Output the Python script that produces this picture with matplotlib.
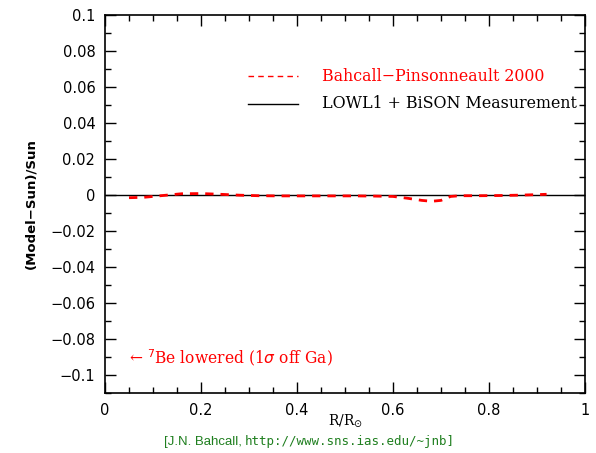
import matplotlib
matplotlib.use("Agg")
import matplotlib.pyplot as plt
from matplotlib.ticker import MultipleLocator

r = [0.05, 0.08, 0.12, 0.16, 0.20, 0.24, 0.28, 0.32, 0.36, 0.40, 0.44, 0.48,
     0.52, 0.56, 0.60, 0.63, 0.66, 0.68, 0.70, 0.72, 0.74, 0.78, 0.82, 0.86, 0.90, 0.92]
model = [-0.0015, -0.0013, -0.0003, 0.0007, 0.0008, 0.0004, -0.0001, -0.0004, -0.0005,
         -0.0005, -0.0005, -0.0005, -0.0005, -0.0006, -0.0008, -0.0018, -0.0030, -0.0035,
         -0.0030, -0.0008, -0.0004, -0.0004, -0.0003, -0.0001, 0.0002, 0.0004]
meas_x = [0.0, 1.0]
meas_y = [0.0, 0.0]

fig = plt.figure(figsize=(5.96, 4.53), dpi=100)
ax = fig.add_axes([105/596, 1-393/453, 480/596, 378/453])
ax.set_xlim(0, 1)
ax.set_ylim(-0.11, 0.1)

ax.plot(meas_x, meas_y, color="black", lw=1.0)
ax.plot(r, model, color="red", lw=2.0, ls=(0, (3, 2.5)))

ax.xaxis.set_major_locator(MultipleLocator(0.2))
ax.xaxis.set_minor_locator(MultipleLocator(0.05))
ax.yaxis.set_minor_locator(MultipleLocator(0.01))
ax.tick_params(which="both", direction="in", top=True, right=True, labelsize=10.5, width=1.0)
ax.tick_params(which="major", length=8, pad=7)
ax.tick_params(which="minor", length=4)
for s in ax.spines.values():
    s.set_linewidth(1.2)

def fmt(v, pos):
    if abs(v) < 1e-9:
        return "0"
    s = ("%.2f" % v).rstrip("0").rstrip(".")
    return s.replace("-", "\u2212")
ax.set_yticks([0.1, 0.08, 0.06, 0.04, 0.02, 0, -0.02, -0.04, -0.06, -0.08, -0.1])
ax.xaxis.set_major_formatter(plt.FuncFormatter(fmt))
ax.yaxis.set_major_formatter(plt.FuncFormatter(fmt))

ax.set_ylabel("(Model\u2212Sun)/Sun", fontsize=9.5, fontweight="bold", labelpad=9)
ax.set_xlabel("R/R$_{\\odot}$", fontsize=10, family="DejaVu Serif")
ax.xaxis.set_label_coords(0.5, (393 - 412) / 378)

# legend
ax.plot([0.298, 0.402], [0.8386, 0.8386], transform=ax.transAxes, color="red", lw=1.0, ls=(0, (4, 3)))
ax.text(0.452, 0.8386, "Bahcall\u2212Pinsonneault 2000", transform=ax.transAxes, color="red",
        fontsize=11.4, family="DejaVu Serif", va="center")
ax.plot([0.298, 0.402], [0.7646, 0.7646], transform=ax.transAxes, color="black", lw=1.0)
ax.text(0.452, 0.7646, "LOWL1 + BiSON Measurement", transform=ax.transAxes, color="black",
        fontsize=11.4, family="DejaVu Serif", va="center")

ax.text(0.05, 0.095, "\u2190 $^{7}$Be lowered (1$\\sigma$ off Ga)", transform=ax.transAxes,
        color="red", fontsize=11.2, family="DejaVu Serif", va="center")

green = "#1f7f1f"
fy = 1 - 442/453
fig.text(245/596, fy, "[J.N. Bahcall, ", color=green, fontsize=9.5, family="Liberation Sans",
         ha="right", va="center")
fig.text(245/596, fy, "http://www.sns.ias.edu/~jnb]", color=green, fontsize=9,
         family="DejaVu Sans Mono", ha="left", va="center")

fig.savefig("out.png", dpi=100)
